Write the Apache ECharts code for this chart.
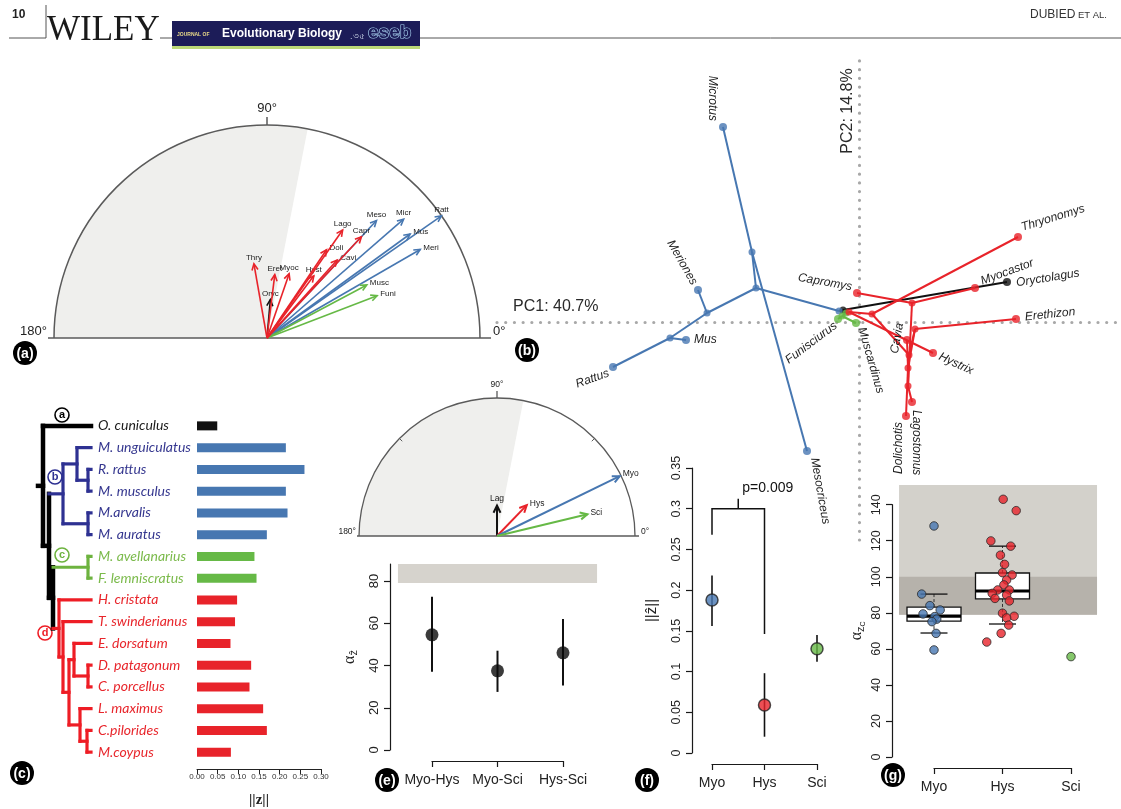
<!DOCTYPE html>
<html>
<head>
<meta charset="utf-8">
<script src="https://cdn.jsdelivr.net/npm/echarts@6/dist/echarts.min.js"></script>
<style>
html, body { margin: 0; padding: 0; background: #ffffff; }
#chart { width: 1121px; height: 809px; }
</style>
</head>
<body>
<div id="chart"></div>
<script>
// ---------------------------------------------------------------
// Shape-change vectors of rodent mandibles: species, clades, PCA
// ---------------------------------------------------------------
const FONT = '"Liberation Sans", Arial, Helvetica, sans-serif';

const groupColor = { out: '#111111', myo: '#4777b1', sci: '#66b946', hys: '#e8232a' };
const treeColor  = { out: '#000000', myo: '#2e3192', sci: '#6db33f', hys: '#ee1d25' };
const nameColor  = { out: '#1a1a1a', myo: '#35378f', sci: '#7bba4b', hys: '#e8262c' };

// species (tree order)
const speciesNames = ['O. cuniculus', 'M. unguiculatus', 'R. rattus', 'M. musculus', 'M.arvalis',
  'M. auratus', 'M. avellanarius', 'F. lemniscratus', 'H. cristata', 'T. swinderianus',
  'E. dorsatum', 'D. patagonum', 'C. porcellus', 'L. maximus', 'C.pilorides', 'M.coypus'];
const speciesCodes = ['Oryc', 'Meri', 'Ratt', 'Mus', 'Micr', 'Meso', 'Musc', 'Funi',
  'Hyst', 'Thry', 'Eret', 'Doli', 'Cavi', 'Lago', 'Capr', 'Myoc'];
const speciesGroup = ['out', 'myo', 'myo', 'myo', 'myo', 'myo', 'sci', 'sci',
  'hys', 'hys', 'hys', 'hys', 'hys', 'hys', 'hys', 'hys'];
// norm of the shape-change vector ||z|| per species
const zNorm = [0.049, 0.215, 0.26, 0.215, 0.219, 0.169, 0.139, 0.144,
  0.097, 0.092, 0.081, 0.131, 0.127, 0.16, 0.169, 0.082];
// vectors in the half-circle plot: length and direction (degrees)
const vecLen   = [0.047, 0.216, 0.26, 0.216, 0.221, 0.196, 0.138, 0.144,
  0.095, 0.092, 0.078, 0.13, 0.128, 0.161, 0.169, 0.083];
const vecAngle = [85, 30, 35, 36, 41, 47, 28, 21, 53, 100, 83, 56, 48, 55, 47, 71];

// angle above which vectors are considered unrelated (shaded zone)
const alphaThreshold = 79;

// clade-level vectors
const cladeCodes = ['Lag', 'Hys', 'Myo', 'Sci'];
const cladeGroup = ['out', 'hys', 'myo', 'sci'];
const cladeNorm  = [0.042, 0.059, 0.188, 0.128];
const cladeAngle = [90, 46, 26, 13.5];

// pairwise angles between clade vectors
const pairLabels = ['Myo-Hys', 'Myo-Sci', 'Hys-Sci'];
const pairAlpha  = [54.5, 37.5, 46];
const pairLow    = [37, 27.5, 30.5];
const pairHigh   = [72.5, 47, 62];
const pairTicks  = [0, 20, 40, 60, 80];
const pairBandTop = 88;

// clade vector norms with intervals
const cladeLabels = ['Myo', 'Hys', 'Sci'];
const cladeLabelGroup = ['myo', 'hys', 'sci'];
const cladeZ     = [0.188, 0.059, 0.128];
const cladeZLow  = [0.156, 0.02, 0.112];
const cladeZHigh = [0.218, 0.098, 0.145];
const bracketY = 0.30, bracketLegs = [0.268, 0.146], bracketText = 'p=0.009';

// within-clade angles between species vectors
const withinBoxStats = [[68.8, 75.4, 78.2, 83.2, 90.4], [73.8, 87.7, 92.1, 102.1, 117]];
const myoAngles = [128.2, 90.4, 84, 81.6, 79.4, 77.9, 76.5, 75.1, 68.6, 59.4];
const myoJitter = [0, -0.18, -0.06, 0.09, -0.16, 0.01, 0.04, -0.03, 0.03, 0];
const hysAngles = [143, 136.7, 119.9, 117, 112, 106.9, 102.3, 101, 98.2, 95.5, 92.7, 92.7,
  90.8, 89.9, 88, 86.6, 79.8, 78.1, 77.2, 73.2, 68.6, 63.8];
const hysJitter = [0.01, 0.2, -0.17, 0.12, -0.03, 0.03, 0, 0.14, 0.06, 0.02, -0.07, 0.1,
  -0.15, 0.06, -0.11, 0.1, 0, 0.17, 0.06, 0.09, -0.02, -0.23];
const sciAngles = [55.7];
const withinBandTop = 151, withinInnerTop = 100;

// phylomorphospace: PC scores of tips and reconstructed ancestors
const pcNames = ['root', 'nA', 'nB', 'nMyo', 'nArv', 'nMer', 'nMus', 'nSci', 'nHys', 'nThr',
  'nCav', 'nEre', 'nDol', 'nLag', 'nCap',
  'Microtus', 'Mesocriceus', 'Meriones', 'Mus', 'Rattus', 'Funisciurus', 'Muscardinus',
  'Oryctolagus', 'Capromys', 'Thryonomys', 'Myocastor', 'Erethizon', 'Hystrix', 'Cavia',
  'Dolichotis', 'Lagostomus'];
const pcParent = [null, 'root', 'nA', 'nA', 'nMyo', 'nMyo', 'nMer', 'nB', 'nB', 'nHys',
  'nThr', 'nCav', 'nEre', 'nCav', 'nLag',
  'nArv', 'nArv', 'nMer', 'nMus', 'nMus', 'nSci', 'nSci',
  'root', 'nCap', 'nThr', 'nCap', 'nEre', 'nHys', 'nDol', 'nDol', 'nLag'];
const pcGroup = ['out', 'myo', 'sci', 'myo', 'myo', 'myo', 'myo', 'sci', 'hys', 'hys',
  'hys', 'hys', 'hys', 'hys', 'hys',
  'myo', 'myo', 'myo', 'myo', 'myo', 'sci', 'sci',
  'out', 'hys', 'hys', 'hys', 'hys', 'hys', 'hys', 'hys', 'hys'];
const pc1 = [-0.016, -0.020, -0.013, -0.103, -0.107, -0.152, -0.189, -0.017, -0.010, 0.013,
  0.050, 0.056, 0.049, 0.049, 0.053,
  -0.136, -0.052, -0.161, -0.173, -0.246, -0.021, -0.003,
  0.148, -0.002, 0.159, 0.116, 0.157, 0.074, 0.048, 0.047, 0.053];
const pc2 = [0.012, 0.011, 0.009, 0.034, 0.070, 0.009, -0.016, 0.006, 0.010, 0.008,
  -0.033, -0.007, -0.046, -0.064, 0.019,
  0.195, -0.129, 0.032, -0.018, -0.045, 0.003, -0.001,
  0.040, 0.029, 0.085, 0.034, 0.003, -0.031, -0.018, -0.094, -0.080];

// tip label placement: rotation (deg), alignment, local offsets
const pcLabelStyle = {
  Microtus:    { rot: -90, align: 'right',  dx: -6, dy: 11 },
  Mesocriceus: { rot: -80, align: 'left',   dx: 8,  dy: -6 },
  Meriones:    { rot: -60, align: 'right',  dx: -7, dy: 0 },
  Mus:         { rot: 0,   align: 'left',   dx: 8,  dy: 0 },
  Rattus:      { rot: 20,  align: 'right',  dx: -6, dy: 4 },
  Funisciurus: { rot: 37,  align: 'right',  dx: -5, dy: 3 },
  Muscardinus: { rot: -74, align: 'left',   dx: 6,  dy: -4 },
  Capromys:    { rot: -10, align: 'right',  dx: -6, dy: -5 },
  Thryonomys:  { rot: 17,  align: 'left',   dx: 6,  dy: -8 },
  Myocastor:   { rot: 20,  align: 'left',   dx: 8,  dy: -4 },
  Oryctolagus: { rot: 9,   align: 'left',   dx: 9,  dy: 2.5 },
  Erethizon:   { rot: 6,   align: 'left',   dx: 9,  dy: -1 },
  Hystrix:     { rot: -25, align: 'left',   dx: 7,  dy: 0 },
  Cavia:       { rot: 80,  align: 'center', dx: 0,  dy: -10 },
  Dolichotis:  { rot: 90,  align: 'right',  dx: -6, dy: -7 },
  Lagostomus:  { rot: -90, align: 'left',   dx: 8,  dy: -4 }
};

// cladogram: internal nodes {depth, kids}; tips are row indices in speciesNames
const cladogram = { depth: 43, kids: [0,
  { depth: 49, kids: [
    { depth: 63, kids: [
      { depth: 77, kids: [1, { depth: 88, kids: [2, 3] }] },
      { depth: 88, kids: [4, 5] } ] },
    { depth: 53, kids: [
      { depth: 88, kids: [6, 7] },
      { depth: 59, kids: [8,
        { depth: 63, kids: [9,
          { depth: 69, kids: [
            { depth: 74, kids: [10, { depth: 88, kids: [11, 12] }] },
            { depth: 80, kids: [13, { depth: 87, kids: [14, 15] }] } ] } ] } ] } ] } ] } ] };
const tipDepth = 91, rootStemDepth = 38;

// arrow label side for the half-circle plots
const arrowLabelSide = { Oryc: 'top', Meri: 'right', Ratt: 'top', Mus: 'right', Micr: 'top',
  Meso: 'top', Musc: 'right', Funi: 'right', Hyst: 'top', Thry: 'top', Eret: 'top',
  Doli: 'right', Cavi: 'right', Lago: 'top', Capr: 'top', Myoc: 'top' };
const cladeLabelSide = { Lag: 'top', Hys: 'right', Myo: 'right', Sci: 'right' };

// ---------------------------------------------------------------
// helpers
// ---------------------------------------------------------------
const deg = Math.PI / 180;

function halfCircleRenderer(R, o) {
  return function (params, api) {
    const c = api.coord([0, 0]);
    const r = api.coord([R, 0])[0] - c[0];
    const thr = alphaThreshold * deg;
    const stroke = '#5a5a5a';
    const kids = [
      { type: 'sector', shape: { cx: c[0], cy: c[1], r0: 0, r: r, startAngle: Math.PI, endAngle: 2 * Math.PI - thr, clockwise: true },
        style: { fill: '#efefed' } },
      { type: 'arc', shape: { cx: c[0], cy: c[1], r: r, startAngle: Math.PI, endAngle: 2 * Math.PI, clockwise: true },
        style: { stroke: stroke, lineWidth: o.lw, fill: null } },
      { type: 'line', shape: { x1: c[0] - r - o.extL, y1: c[1], x2: c[0] + r + o.extR, y2: c[1] },
        style: { stroke: stroke, lineWidth: o.lw } },
      { type: 'line', shape: { x1: c[0], y1: c[1] - r, x2: c[0], y2: c[1] - r - o.tick },
        style: { stroke: stroke, lineWidth: o.lw } },
      { type: 'text', x: c[0], y: c[1] - r - o.tick - 2,
        style: { text: '90°', fill: '#222', font: o.fs + 'px ' + FONT, align: 'center', textAlign: 'center', verticalAlign: 'bottom', textVerticalAlign: 'bottom' } },
      { type: 'text', x: c[0] - r - o.extL - 1, y: c[1],
        style: { text: '180°', fill: '#222', font: o.fs + 'px ' + FONT, align: 'right', textAlign: 'right', verticalAlign: 'bottom', textVerticalAlign: 'bottom' } },
      { type: 'text', x: c[0] + r + o.extR + 2, y: c[1],
        style: { text: '0°', fill: '#222', font: o.fs + 'px ' + FONT, align: 'left', textAlign: 'left', verticalAlign: 'bottom', textVerticalAlign: 'bottom' } }
    ];
    if (o.minorTicks) {
      [45, 135].forEach(function (a) {
        const ca = Math.cos(a * deg), sa = Math.sin(a * deg);
        kids.push({ type: 'line', shape: { x1: c[0] + r * ca, y1: c[1] - r * sa, x2: c[0] + (r - 4) * ca, y2: c[1] - (r - 4) * sa },
          style: { stroke: stroke, lineWidth: 1 } });
      });
    }
    return { type: 'group', children: kids };
  };
}

function arrowRenderer(codes, groups, sides, o) {
  return function (params, api) {
    const i = params.dataIndex;
    const c = api.coord([0, 0]);
    const t = api.coord([api.value(0), api.value(1)]);
    const dir = Math.atan2(t[1] - c[1], t[0] - c[0]);
    const col = o.colors[groups[i]];
    const p1 = [t[0] - o.head * Math.cos(dir - 0.45), t[1] - o.head * Math.sin(dir - 0.45)];
    const p2 = [t[0] - o.head * Math.cos(dir + 0.45), t[1] - o.head * Math.sin(dir + 0.45)];
    const side = sides[codes[i]];
    const label = side === 'top'
      ? { type: 'text', x: t[0], y: t[1] - 2, style: { text: codes[i], fill: '#222', font: o.fs + 'px ' + FONT, align: 'center', textAlign: 'center', verticalAlign: 'bottom', textVerticalAlign: 'bottom' } }
      : { type: 'text', x: t[0] + 3, y: t[1] - 2, style: { text: codes[i], fill: '#222', font: o.fs + 'px ' + FONT, align: 'left', textAlign: 'left', verticalAlign: 'middle', textVerticalAlign: 'middle' } };
    return { type: 'group', children: [
      { type: 'line', shape: { x1: c[0], y1: c[1], x2: t[0], y2: t[1] }, style: { stroke: col, lineWidth: o.lw } },
      { type: 'polyline', shape: { points: [p1, t, p2] }, style: { stroke: col, lineWidth: o.lw, fill: null, lineJoin: 'miter' } },
      label
    ] };
  };
}

function toXY(norms, angles) {
  return norms.map(function (r, i) { return [r * Math.cos(angles[i] * deg), r * Math.sin(angles[i] * deg)]; });
}

// cladogram -> segments
const treeSegments = [];
(function build() {
  function layout(node) {
    if (typeof node === 'number') {
      return { y: node, depth: tipDepth, group: speciesGroup[node] };
    }
    const kids = node.kids.map(layout);
    const ys = kids.map(function (k) { return k.y; });
    const groups = kids.map(function (k) { return k.group; });
    const same = groups.every(function (g) { return g === groups[0]; });
    const group = same ? groups[0] : 'out';
    const y = (Math.min.apply(null, ys) + Math.max.apply(null, ys)) / 2;
    treeSegments.push([node.depth, Math.min.apply(null, ys), node.depth, Math.max.apply(null, ys), group]);
    kids.forEach(function (k) {
      treeSegments.push([node.depth, k.y, k.depth, k.y, k.group]);
    });
    return { y: y, depth: node.depth, group: group };
  }
  const root = layout(cladogram);
  treeSegments.push([rootStemDepth, root.y, cladogram.depth, root.y, 'out']);
})();

// phylomorphospace edges
const pcIndex = {};
pcNames.forEach(function (n, i) { pcIndex[n] = i; });
const pcEdges = [];
pcNames.forEach(function (n, i) {
  if (pcParent[i] === null) return;
  const p = pcIndex[pcParent[i]];
  pcEdges.push({ value: [pc1[p], pc2[p], pc1[i], pc2[i]], group: pcGroup[i] });
});
const pcTips = pcNames.map(function (n, i) { return i; }).filter(function (i) { return pcLabelStyle[pcNames[i]]; });

// ---------------------------------------------------------------
// axes helpers
// ---------------------------------------------------------------
function hiddenAxis(gi, min, max, extra) {
  return Object.assign({ gridIndex: gi, type: 'value', min: min, max: max, show: false, splitLine: { show: false } }, extra || {});
}
const axisLineStyle = { color: '#1a1a1a', width: 1.2 };

function rCategoryX(gi, labels) {
  return {
    gridIndex: gi, type: 'value', min: 0, max: 2, interval: 1, offset: 11,
    axisLine: { show: true, onZero: false, lineStyle: axisLineStyle },
    axisTick: { show: true, length: 6, lineStyle: axisLineStyle },
    axisLabel: { formatter: function (v) { return labels[v] || ''; }, fontFamily: FONT, fontSize: 14, color: '#222', margin: 12 },
    splitLine: { show: false }
  };
}

const G = {
  a:    { left: 54,  top: 125, width: 426, height: 213 },
  b:    { left: 497, top: 60,  width: 624, height: 480 },
  tree: { left: 37,  top: 415, width: 55,  height: 348 },
  bars: { left: 197, top: 415, width: 124, height: 348 },
  d:    { left: 359, top: 398, width: 276, height: 138 },
  e:    { left: 432, top: 564.1, width: 131, height: 185.9 },
  f:    { left: 712, top: 468, width: 105, height: 285 },
  g:    { left: 934, top: 504.7, width: 137, height: 252.3 }
};
const gridOrder = ['a', 'b', 'tree', 'bars', 'd', 'e', 'f', 'g'];

const xAxes = [
  hiddenAxis(0, -0.26, 0.26),
  { gridIndex: 1, type: 'value', min: -0.362, max: 0.262, axisLine: { show: true, onZero: true, lineStyle: { color: '#a8a8a8', width: 3.2, type: [0.01, 8.7], cap: 'round' } },
    axisTick: { show: false }, axisLabel: { show: false }, splitLine: { show: false } },
  hiddenAxis(2, rootStemDepth - 1, tipDepth + 1),
  { gridIndex: 3, type: 'value', min: 0, max: 0.3, interval: 0.05, offset: 6,
    axisLine: { show: true, onZero: false, lineStyle: { color: '#222', width: 1 } },
    axisTick: { show: true, length: 5, lineStyle: { color: '#222', width: 1 } },
    axisLabel: { fontFamily: FONT, fontSize: 8, color: '#333', margin: 4, formatter: function (v) { return v.toFixed(2); } },
    splitLine: { show: false },
    name: '||z||', nameLocation: 'middle', nameGap: 24,
    nameTextStyle: { fontFamily: '"Liberation Serif", serif', fontSize: 15, fontWeight: 'bold', color: '#222' } },
  hiddenAxis(4, -0.19, 0.19),
  rCategoryX(5, pairLabels),
  rCategoryX(6, cladeLabels),
  rCategoryX(7, cladeLabels)
];

const yAxes = [
  hiddenAxis(0, 0, 0.26),
  { gridIndex: 1, type: 'value', min: -0.218, max: 0.262, axisLine: { show: true, onZero: true, lineStyle: { color: '#a8a8a8', width: 3.2, type: [0.01, 8.7], cap: 'round' } },
    axisTick: { show: false }, axisLabel: { show: false }, splitLine: { show: false } },
  hiddenAxis(2, -0.5, speciesNames.length - 0.5, { inverse: true }),
  { gridIndex: 3, type: 'category', data: speciesNames, inverse: true,
    axisLine: { show: false }, axisTick: { show: false },
    axisLabel: { align: 'left', margin: 99, fontFamily: 'Lato, "Open Sans", sans-serif', fontStyle: 'italic', fontSize: 14,
      color: function (v, i) { return nameColor[speciesGroup[i]]; } } },
  hiddenAxis(4, 0, 0.19),
  { gridIndex: 5, type: 'value', min: 0, max: pairBandTop, offset: 42,
    axisLine: { show: true, onZero: false, lineStyle: axisLineStyle },
    axisTick: { show: true, length: 6, customValues: pairTicks, lineStyle: axisLineStyle },
    axisLabel: { customValues: pairTicks, rotate: 90, fontFamily: FONT, fontSize: 13, color: '#222', margin: 9 },
    splitLine: { show: false },
    name: '{a|α}{b|ẑ}', nameLocation: 'middle', nameRotate: 90, nameGap: 31, nameMoveOverlap: false,
    nameTextStyle: { rich: { a: { fontSize: 16, fontFamily: '"Liberation Serif", serif', color: '#222' },
      b: { fontSize: 11, fontFamily: FONT, color: '#222', padding: [8, 0, 0, 0] } } } },
  { gridIndex: 6, type: 'value', min: 0, max: 0.35, interval: 0.05, offset: 20,
    axisLine: { show: true, onZero: false, lineStyle: axisLineStyle },
    axisTick: { show: true, length: 6, lineStyle: axisLineStyle },
    axisLabel: { rotate: 90, fontFamily: FONT, fontSize: 12.5, color: '#222', margin: 9,
      formatter: function (v) { return String(+v.toFixed(2)); } },
    splitLine: { show: false },
    name: '||ẑ||', nameLocation: 'middle', nameRotate: 90, nameGap: 33, nameMoveOverlap: false,
    nameTextStyle: { fontFamily: FONT, fontSize: 15, color: '#222' } },
  { gridIndex: 7, type: 'value', min: 0, max: 140, interval: 20, offset: 42,
    axisLine: { show: true, onZero: false, lineStyle: axisLineStyle },
    axisTick: { show: true, length: 6, lineStyle: axisLineStyle },
    axisLabel: { rotate: 90, fontFamily: FONT, fontSize: 12.5, color: '#222', margin: 9 },
    splitLine: { show: false },
    name: '{a|α}{b|z}{c|C}', nameLocation: 'middle', nameRotate: 90, nameGap: 25, nameMoveOverlap: false,
    nameTextStyle: { rich: { a: { fontSize: 16, fontFamily: '"Liberation Serif", serif', color: '#222' },
      b: { fontSize: 11, fontFamily: FONT, color: '#222', padding: [8, 0, 0, 0] },
      c: { fontSize: 7, fontFamily: FONT, color: '#222', padding: [13, 0, 0, 0] } } } }
];

// ---------------------------------------------------------------
// series
// ---------------------------------------------------------------
const series = [];

// (a) species vectors
series.push({ type: 'custom', xAxisIndex: 0, yAxisIndex: 0, data: [[0, 0]], silent: true, z: 1,
  renderItem: halfCircleRenderer(0.26, { lw: 1.5, extL: 6, extR: 11, tick: 8, fs: 13, minorTicks: false }) });
series.push({ type: 'custom', xAxisIndex: 0, yAxisIndex: 0, data: toXY(vecLen, vecAngle), silent: true, z: 2,
  renderItem: arrowRenderer(speciesCodes, speciesGroup, arrowLabelSide, { colors: groupColor, lw: 1.6, head: 7, fs: 8 }) });

// (b) phylomorphospace
series.push({ type: 'custom', xAxisIndex: 1, yAxisIndex: 1, data: pcEdges, silent: true, z: 2,
  encode: { x: [0, 2], y: [1, 3] },
  renderItem: function (params, api) {
    const p = api.coord([api.value(0), api.value(1)]);
    const q = api.coord([api.value(2), api.value(3)]);
    return { type: 'line', shape: { x1: p[0], y1: p[1], x2: q[0], y2: q[1] },
      style: { stroke: groupColor[pcEdges[params.dataIndex].group], lineWidth: 2 } };
  } });
series.push({ type: 'scatter', xAxisIndex: 1, yAxisIndex: 1, silent: true, z: 3,
  data: pcNames.map(function (n, i) {
    return { value: [pc1[i], pc2[i]], symbolSize: pcLabelStyle[n] ? 8 : 7, itemStyle: { color: groupColor[pcGroup[i]] } };
  }) });
series.push({ type: 'custom', xAxisIndex: 1, yAxisIndex: 1, silent: true, z: 4,
  data: pcTips.map(function (i) { return [pc1[i], pc2[i]]; }),
  renderItem: function (params, api) {
    const name = pcNames[pcTips[params.dataIndex]];
    const s = pcLabelStyle[name];
    const p = api.coord([api.value(0), api.value(1)]);
    return { type: 'text', x: p[0], y: p[1], rotation: s.rot * deg,
      style: { text: name, x: s.dx, y: s.dy, fill: '#1f1f1f', font: 'italic 12px ' + FONT,
        align: s.align, textAlign: s.align, verticalAlign: 'middle', textVerticalAlign: 'middle' } };
  } });

// (c) cladogram
series.push({ type: 'custom', xAxisIndex: 2, yAxisIndex: 2, silent: true, z: 2,
  data: treeSegments.map(function (s) { return s.slice(0, 4); }),
  encode: { x: [0, 2], y: [1, 3] },
  renderItem: function (params, api) {
    const p = api.coord([api.value(0), api.value(1)]);
    const q = api.coord([api.value(2), api.value(3)]);
    const g = treeSegments[params.dataIndex][4];
    return { type: 'line', shape: { x1: p[0], y1: p[1], x2: q[0], y2: q[1] },
      style: { stroke: treeColor[g], lineWidth: g === 'out' ? 4.5 : 3.2, lineCap: 'square' } };
  } });
// (c) vector norms
series.push({ type: 'bar', xAxisIndex: 3, yAxisIndex: 3, barWidth: 9, silent: true,
  data: zNorm.map(function (v, i) { return { value: v, itemStyle: { color: groupColor[speciesGroup[i]] } }; }) });

// (d) clade vectors
series.push({ type: 'custom', xAxisIndex: 4, yAxisIndex: 4, data: [[0, 0]], silent: true, z: 1,
  renderItem: halfCircleRenderer(0.19, { lw: 1.3, extL: 2, extR: 4, tick: 7, fs: 8.5, minorTicks: true }) });
series.push({ type: 'custom', xAxisIndex: 4, yAxisIndex: 4, data: toXY(cladeNorm, cladeAngle), silent: true, z: 2,
  renderItem: arrowRenderer(cladeCodes, cladeGroup, cladeLabelSide, { colors: groupColor, lw: 2, head: 8, fs: 8.5 }) });

// (e) angles between clade vectors
series.push({ type: 'custom', xAxisIndex: 5, yAxisIndex: 5, data: [[0, alphaThreshold]], silent: true, z: 1,
  renderItem: function (params, api) {
    const a = api.coord([-0.52, pairBandTop]);
    const b = api.coord([2.52, alphaThreshold]);
    return { type: 'rect', shape: { x: a[0], y: a[1], width: b[0] - a[0], height: b[1] - a[1] }, style: { fill: '#d6d3cd' } };
  } });
series.push({ type: 'custom', xAxisIndex: 5, yAxisIndex: 5, silent: true, z: 2,
  data: pairAlpha.map(function (v, i) { return [i, pairLow[i], pairHigh[i]]; }),
  encode: { x: 0, y: [1, 2] },
  renderItem: function (params, api) {
    const p = api.coord([api.value(0), api.value(1)]);
    const q = api.coord([api.value(0), api.value(2)]);
    return { type: 'line', shape: { x1: p[0], y1: p[1], x2: q[0], y2: q[1] }, style: { stroke: '#111', lineWidth: 2 } };
  } });
series.push({ type: 'scatter', xAxisIndex: 5, yAxisIndex: 5, silent: true, z: 3, symbolSize: 13,
  itemStyle: { color: '#0a0a0a' },
  data: pairAlpha.map(function (v, i) { return [i, v]; }) });

// (f) clade vector norms
series.push({ type: 'custom', xAxisIndex: 6, yAxisIndex: 6, silent: true, z: 2,
  data: cladeZ.map(function (v, i) { return [i, cladeZLow[i], cladeZHigh[i]]; }),
  encode: { x: 0, y: [1, 2] },
  renderItem: function (params, api) {
    const p = api.coord([api.value(0), api.value(1)]);
    const q = api.coord([api.value(0), api.value(2)]);
    return { type: 'line', shape: { x1: p[0], y1: p[1], x2: q[0], y2: q[1] }, style: { stroke: '#111', lineWidth: 1.6 } };
  } });
series.push({ type: 'custom', xAxisIndex: 6, yAxisIndex: 6, silent: true, z: 2,
  data: [[0, bracketY]],
  renderItem: function (params, api) {
    const l0 = api.coord([0, bracketLegs[0]]), l1 = api.coord([0, bracketY]);
    const r1 = api.coord([1, bracketY]), r0 = api.coord([1, bracketLegs[1]]);
    const mx = (l1[0] + r1[0]) / 2;
    const st = { stroke: '#111', lineWidth: 1.5, fill: null };
    return { type: 'group', children: [
      { type: 'polyline', shape: { points: [l0, l1, r1, r0] }, style: st },
      { type: 'line', shape: { x1: mx, y1: l1[1], x2: mx, y2: l1[1] - 10 }, style: st },
      { type: 'text', x: mx + 4, y: l1[1] - 14,
        style: { text: bracketText, fill: '#111', font: '14px ' + FONT, align: 'left', textAlign: 'left', verticalAlign: 'bottom', textVerticalAlign: 'bottom' } }
    ] };
  } });
series.push({ type: 'scatter', xAxisIndex: 6, yAxisIndex: 6, silent: true, z: 3, symbolSize: 12,
  data: cladeZ.map(function (v, i) {
    return { value: [i, v], itemStyle: { color: groupColor[cladeLabelGroup[i]], borderColor: '#222', borderWidth: 1.5 } };
  }) });

// (g) angles within clades
series.push({ type: 'custom', xAxisIndex: 7, yAxisIndex: 7, data: [[0, alphaThreshold]], silent: true, z: 1,
  renderItem: function (params, api) {
    const a = api.coord([-0.51, withinBandTop]);
    const b = api.coord([2.38, alphaThreshold]);
    const m = api.coord([-0.51, withinInnerTop]);
    return { type: 'group', children: [
      { type: 'rect', shape: { x: a[0], y: a[1], width: b[0] - a[0], height: b[1] - a[1] }, style: { fill: '#d3d1cb' } },
      { type: 'rect', shape: { x: a[0], y: m[1], width: b[0] - a[0], height: b[1] - m[1] }, style: { fill: '#b6b2ab' } }
    ] };
  } });
series.push({ type: 'custom', xAxisIndex: 7, yAxisIndex: 7, silent: true, z: 2,
  data: withinBoxStats.map(function (s, i) { return [i].concat(s); }),
  encode: { x: 0, y: [1, 5] },
  renderItem: function (params, api) {
    const x = api.value(0);
    const pt = function (k) { return api.coord([x, api.value(k)]); };
    const lo = pt(1), q1 = pt(2), md = pt(3), q3 = pt(4), hi = pt(5);
    const hw = 27, cw = 13.5, cx = lo[0];
    const dash = { stroke: '#333', lineWidth: 1, lineDash: [3, 2] };
    const solid = { stroke: '#111', lineWidth: 1.3, fill: null };
    return { type: 'group', children: [
      { type: 'line', shape: { x1: cx, y1: q3[1], x2: cx, y2: hi[1] }, style: dash },
      { type: 'line', shape: { x1: cx, y1: q1[1], x2: cx, y2: lo[1] }, style: dash },
      { type: 'line', shape: { x1: cx - cw, y1: hi[1], x2: cx + cw, y2: hi[1] }, style: solid },
      { type: 'line', shape: { x1: cx - cw, y1: lo[1], x2: cx + cw, y2: lo[1] }, style: solid },
      { type: 'rect', shape: { x: cx - hw, y: q3[1], width: 2 * hw, height: q1[1] - q3[1] }, style: { fill: '#ffffff', stroke: '#111', lineWidth: 1.3 } },
      { type: 'line', shape: { x1: cx - hw, y1: md[1], x2: cx + hw, y2: md[1] }, style: { stroke: '#000', lineWidth: 3.2 } }
    ] };
  } });
function stripData(values, jitter, x, group) {
  return values.map(function (v, i) {
    return { value: [x + (jitter ? jitter[i] : 0), v], itemStyle: { color: groupColor[group], borderColor: '#2a2a2a', borderWidth: 1 } };
  });
}
series.push({ type: 'scatter', xAxisIndex: 7, yAxisIndex: 7, silent: true, z: 4, symbolSize: 8.5, clip: false,
  data: stripData(myoAngles, myoJitter, 0, 'myo').concat(stripData(hysAngles, hysJitter, 1, 'hys'), stripData(sciAngles, null, 2, 'sci')) });

// ---------------------------------------------------------------
// page furniture: running head, panel tags, clade tags, PC labels
// ---------------------------------------------------------------
function panelTag(letter, x, y) {
  return { type: 'group', x: x, y: y, children: [
    { type: 'circle', shape: { cx: 0, cy: 0, r: 12 }, style: { fill: '#000' } },
    { type: 'text', style: { text: '(' + letter + ')', x: 0, y: 1, fill: '#fff', font: 'bold 14px ' + FONT,
      align: 'center', textAlign: 'center', verticalAlign: 'middle', textVerticalAlign: 'middle' } }
  ] };
}
function cladeTag(letter, x, y, color) {
  return { type: 'group', x: x, y: y, children: [
    { type: 'circle', shape: { cx: 0, cy: 0, r: 7 }, style: { fill: '#fff', stroke: color, lineWidth: 1.6 } },
    { type: 'text', style: { text: letter, x: 0, y: 0, fill: color, font: 'bold 11px ' + FONT,
      align: 'center', textAlign: 'center', verticalAlign: 'middle', textVerticalAlign: 'middle' } }
  ] };
}
const graphics = [
  { type: 'text', x: 12, y: 15, style: { text: '10', fill: '#222', font: 'bold 12px ' + FONT, align: 'left', textAlign: 'left', verticalAlign: 'middle', textVerticalAlign: 'middle' } },
  { type: 'line', shape: { x1: 9, y1: 38, x2: 46, y2: 38 }, style: { stroke: '#555', lineWidth: 1 } },
  { type: 'line', shape: { x1: 46, y1: 5, x2: 46, y2: 38 }, style: { stroke: '#555', lineWidth: 1 } },
  { type: 'line', shape: { x1: 160, y1: 38, x2: 172, y2: 38 }, style: { stroke: '#555', lineWidth: 1 } },
  { type: 'line', shape: { x1: 420, y1: 38, x2: 1121, y2: 38 }, style: { stroke: '#555', lineWidth: 1 } },
  { type: 'text', x: 47, y: 48, style: { text: 'WILEY', fill: '#1a1a1a', font: '35px "Liberation Serif", "Times New Roman", serif', align: 'left', textAlign: 'left', verticalAlign: 'bottom', textVerticalAlign: 'bottom' } },
  { type: 'rect', shape: { x: 172, y: 21, width: 248, height: 25 }, style: { fill: '#1c1c58' } },
  { type: 'rect', shape: { x: 172, y: 46, width: 248, height: 3 }, style: { fill: '#bcd877' } },
  { type: 'text', x: 177, y: 35, style: { text: 'JOURNAL OF', fill: '#e9d98a', font: 'bold 5px ' + FONT, align: 'left', textAlign: 'left', verticalAlign: 'middle', textVerticalAlign: 'middle' } },
  { type: 'text', x: 222, y: 34, style: { text: 'Evolutionary Biology', fill: '#ffffff', font: 'bold 12px ' + FONT, align: 'left', textAlign: 'left', verticalAlign: 'middle', textVerticalAlign: 'middle' } },
  { type: 'text', x: 350, y: 37, style: { text: '.৩৫', fill: '#c9d3e6', font: '9px ' + FONT, align: 'left', textAlign: 'left', verticalAlign: 'middle', textVerticalAlign: 'middle' } },
  { type: 'text', x: 368, y: 33, style: { text: 'eseb', fill: '#1c1c58', stroke: '#a9d2f0', lineWidth: 1.2, font: 'bold 19px ' + FONT, align: 'left', textAlign: 'left', verticalAlign: 'middle', textVerticalAlign: 'middle' } },
  { type: 'text', x: 1107, y: 15, style: { text: '{a|DUBIED}{b| ET AL.}', fill: '#333', align: 'right', textAlign: 'right', verticalAlign: 'middle', textVerticalAlign: 'middle',
      rich: { a: { fontSize: 12, fontFamily: FONT, fill: '#333', color: '#333' }, b: { fontSize: 9.5, fontFamily: FONT, fill: '#333', color: '#333' } } } },
  { type: 'text', x: 513, y: 307, style: { text: 'PC1: 40.7%', fill: '#2a2a2a', font: '16px ' + FONT, align: 'left', textAlign: 'left', verticalAlign: 'middle', textVerticalAlign: 'middle' } },
  { type: 'text', x: 848, y: 111, rotation: Math.PI / 2, style: { text: 'PC2: 14.8%', fill: '#2a2a2a', font: '16px ' + FONT, align: 'center', textAlign: 'center', verticalAlign: 'middle', textVerticalAlign: 'middle' } },
  cladeTag('a', 62, 415, treeColor.out),
  cladeTag('b', 55, 477, treeColor.myo),
  cladeTag('c', 62, 555, treeColor.sci),
  cladeTag('d', 45, 633, treeColor.hys),
  panelTag('a', 25, 353),
  panelTag('b', 527, 350),
  panelTag('c', 22, 773),
  panelTag('d', 385, 519),
  panelTag('e', 387, 780),
  panelTag('f', 647, 780),
  panelTag('g', 893, 775)
];

const chart = echarts.init(document.getElementById('chart'), null, { renderer: 'canvas', width: 1121, height: 809 });
chart.setOption({
  animation: false,
  backgroundColor: '#ffffff',
  textStyle: { fontFamily: FONT },
  grid: gridOrder.map(function (k) { return Object.assign({ containLabel: false }, G[k]); }),
  xAxis: xAxes,
  yAxis: yAxes,
  series: series,
  graphic: { elements: graphics }
});
</script>
</body>
</html>
